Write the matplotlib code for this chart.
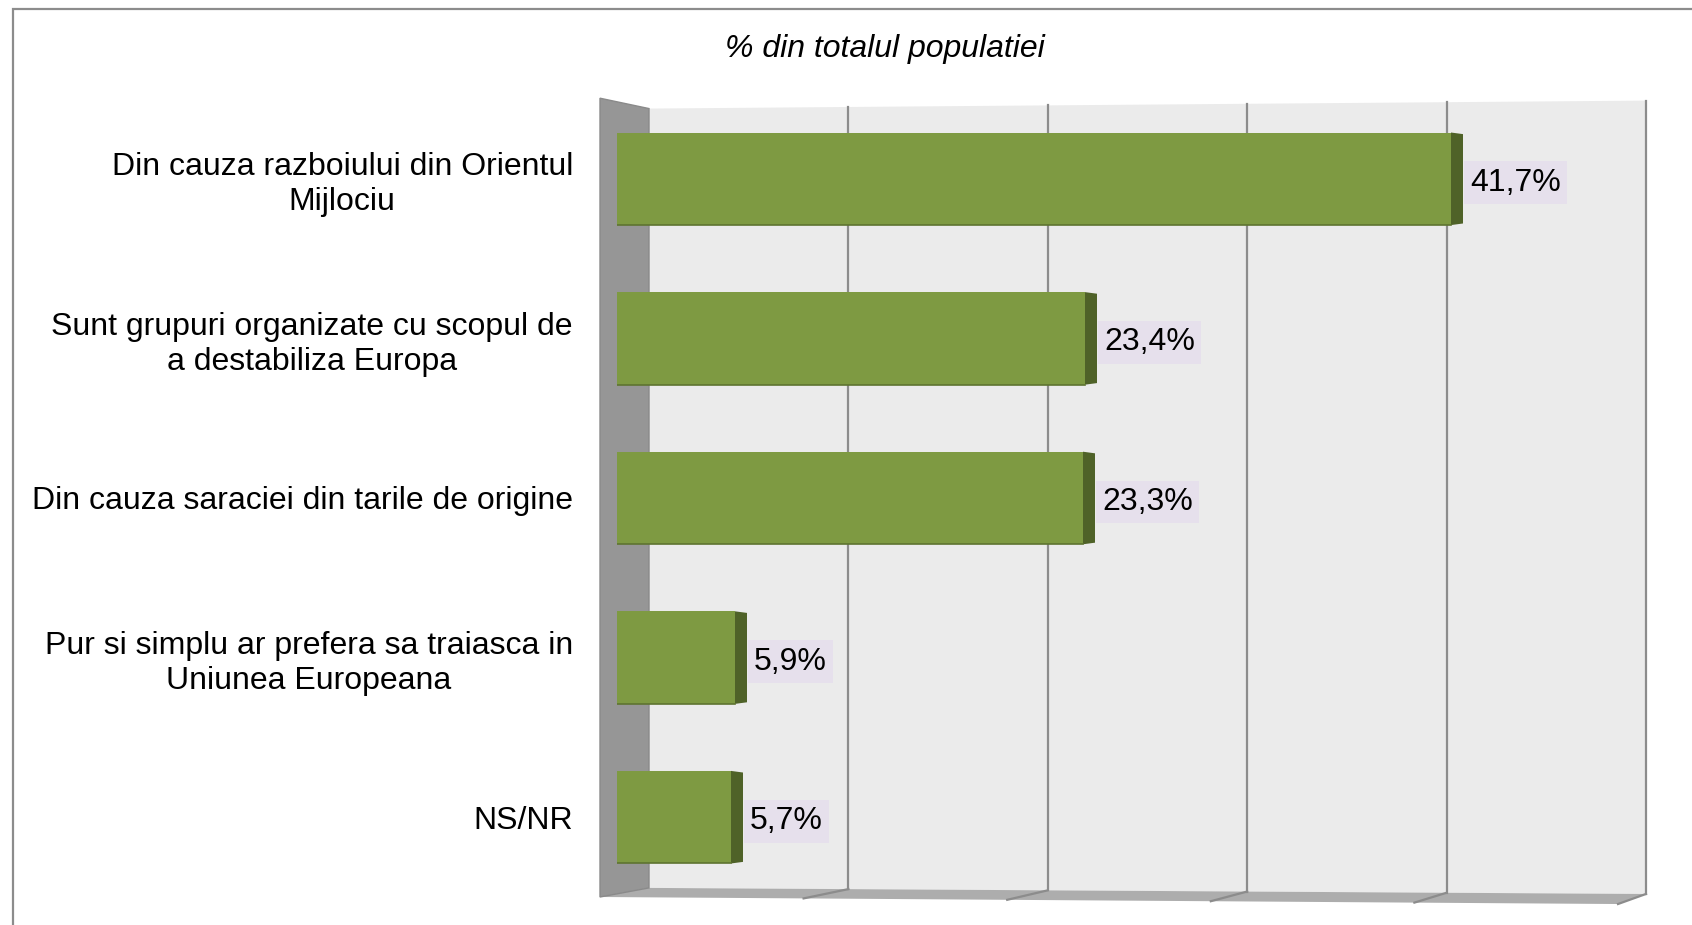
import matplotlib.pyplot as plt
from matplotlib.patches import Polygon, Rectangle

categories = ["Din cauza razboiului din Orientul\nMijlociu",
              "Sunt grupuri organizate cu scopul de\na destabiliza Europa",
              "Din cauza saraciei din tarile de origine",
              "Pur si simplu ar prefera sa traiasca in\nUniunea Europeana",
              "NS/NR"]
values = [41.7, 23.4, 23.3, 5.9, 5.7]
grid_ticks = [10, 20, 30, 40, 50]
x_max = 50
title = "% din totalul populatiei"

plt.rcParams['font.family'] = ['Liberation Sans', 'DejaVu Sans']

W, H = 1692, 925
fig = plt.figure(figsize=(W / 100, H / 100), dpi=100)
ax = fig.add_axes([617 / W, 1 - 897 / H, 1000 / W, 798 / H])
n = len(values)
ax.set_xlim(0, x_max)
ax.set_ylim(n - 0.5, -0.5)
ax.set_facecolor('none')
for s in ax.spines.values():
    s.set_visible(False)
ax.set_xticks([])


# pseudo-3D geometry (data units)
def back_x(v):
    return 1.6 + v * 0.997


def front_x(v):
    return -0.85 + v * 1.018


def back_top(v):
    return -0.44 - 0.001 * v


def back_bot(v):
    return n - 0.557 + 0.00076 * v


def front_bot(v):
    return n - 0.5 + 0.00088 * v


kw = dict(clip_on=False)
# back wall
ax.add_patch(Polygon([(back_x(0), back_top(0)), (back_x(x_max), back_top(x_max)),
                      (back_x(x_max), back_bot(x_max)), (back_x(0), back_bot(0))],
                     facecolor='#EBEBEB', edgecolor='none', zorder=0, **kw))
# floor
ax.add_patch(Polygon([(front_x(0), front_bot(0)), (back_x(0), back_bot(0)),
                      (back_x(x_max), back_bot(x_max)), (front_x(x_max), front_bot(x_max))],
                     facecolor='#ADADAD', edgecolor='none', zorder=1, **kw))
# left wall
ax.add_patch(Polygon([(front_x(0), -0.505), (back_x(0), back_top(0)),
                      (back_x(0), back_bot(0)), (front_x(0), front_bot(0))],
                     facecolor='#969696', edgecolor='#8A8A8A', lw=1, zorder=2, **kw))
# grid lines on back wall and floor
for g in grid_ticks:
    ax.plot([back_x(g), back_x(g)], [back_top(g), back_bot(g)],
            color='#8C8C8C', lw=1.6, zorder=1, **kw)
    ax.plot([back_x(g), front_x(g)], [back_bot(g), front_bot(g)],
            color='#8C8C8C', lw=1.6, zorder=1, **kw)

# bars
bar_h = 0.58
ax.barh(range(n), values, height=bar_h, color='#7E9A42', zorder=3)
for i, v in enumerate(values):
    ax.add_patch(Polygon([(v, i - bar_h / 2), (v + 0.6, i - bar_h / 2 + 0.01),
                          (v + 0.6, i + bar_h / 2 - 0.01), (v, i + bar_h / 2)],
                         facecolor='#4F6228', edgecolor='none', zorder=3, **kw))
    ax.plot([0, v], [i + bar_h / 2, i + bar_h / 2], color='#5E7430', lw=1.2, zorder=3)
    ax.text(v + 0.95, i + 0.025, f"{v:.1f}".replace('.', ',') + '%', fontsize=23,
            ha='left', va='center', zorder=5,
            bbox=dict(boxstyle='square,pad=0.2', facecolor='#E6E0EC', edgecolor='none'))

# category labels
ax.set_yticks(range(n))
ax.set_yticklabels(categories, fontsize=23)
ax.tick_params(axis='y', length=0, pad=31.7)
for lbl in ax.get_yticklabels():
    lbl.set_multialignment('center')
    lbl.set_linespacing(1.22)

fig.text(885 / W, 1 - 48.5 / H, title, fontsize=23, style='italic',
         ha='center', va='center')

# outer chart border (runs off the right and bottom edges)
fig.add_artist(Rectangle((12.5 / W, -0.5), 2, 1 - 8.5 / H + 0.5,
                         transform=fig.transFigure, fill=False,
                         edgecolor='#8C8C8C', lw=1.6))

fig.savefig('out.png', dpi=100)
